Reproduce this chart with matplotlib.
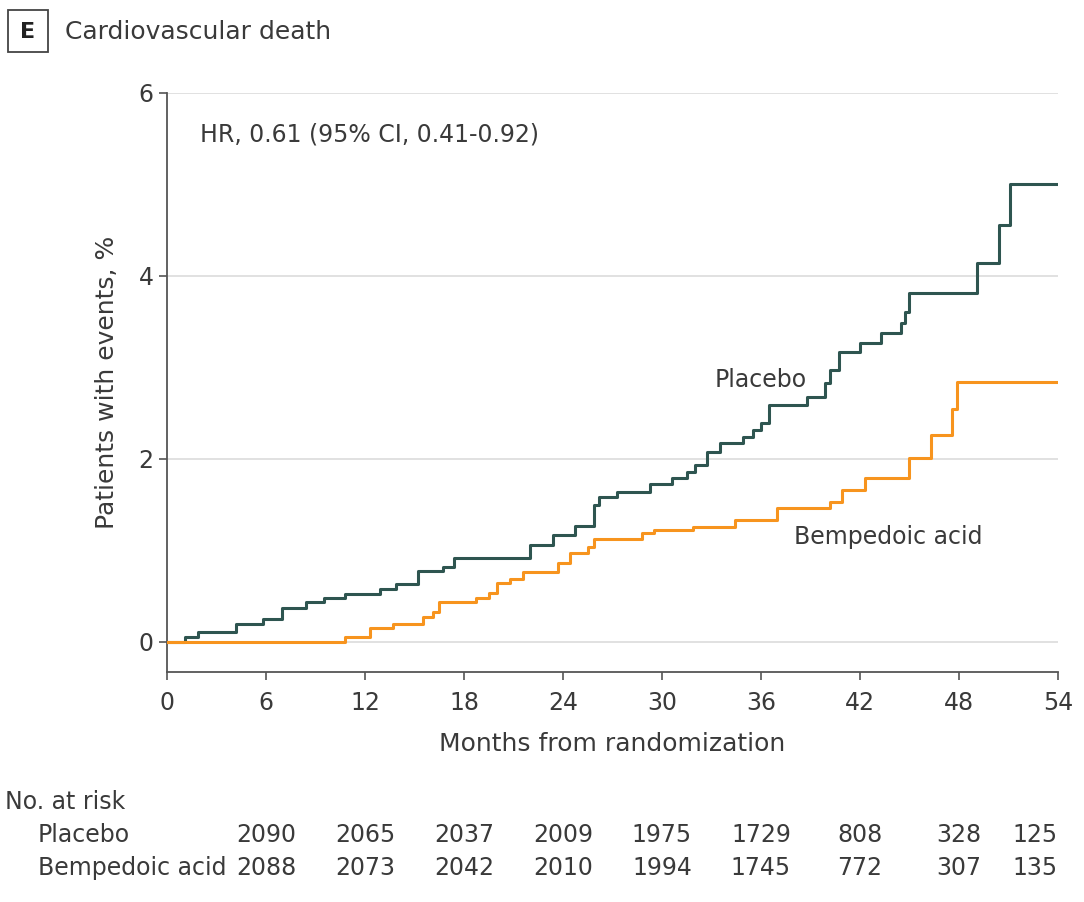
import matplotlib
matplotlib.use("Agg")
import matplotlib.pyplot as plt
from matplotlib.patches import Rectangle

plt.rcParams["font.family"] = ["Liberation Sans Narrow", "DejaVu Sans"]

# ------------------------
# Data
# ------------------------
placebo_months = [0, 1.1, 1.9, 4.2, 5.8, 7.0, 8.4, 9.5, 10.8, 12.9, 13.9, 15.2, 16.7, 17.4,
                  22.0, 23.4, 24.7, 25.9, 26.2, 27.3, 29.3, 30.6, 31.5, 32.0, 32.7, 33.5,
                  34.9, 35.5, 36.0, 36.5, 38.8, 39.9, 40.2, 40.7, 42.0, 43.3, 44.5, 44.7,
                  45.0, 49.1, 50.4, 51.1, 54]
placebo_pct = [0, 0.05, 0.11, 0.20, 0.25, 0.37, 0.43, 0.48, 0.52, 0.58, 0.63, 0.77, 0.82, 0.92,
               1.06, 1.17, 1.27, 1.50, 1.58, 1.64, 1.72, 1.79, 1.86, 1.93, 2.08, 2.17,
               2.24, 2.32, 2.39, 2.59, 2.68, 2.83, 2.97, 3.17, 3.27, 3.38, 3.49, 3.60,
               3.81, 4.14, 4.56, 5.00, 5.00]

bempedoic_months = [0, 10.8, 12.3, 13.7, 15.5, 16.1, 16.5, 18.7, 19.5, 20.0, 20.8, 21.6, 23.7,
                    24.4, 25.5, 25.9, 28.8, 29.5, 31.9, 34.4, 37.0, 40.2, 40.9, 42.3, 45.0,
                    46.3, 47.6, 47.9, 54]
bempedoic_pct = [0, 0.05, 0.15, 0.20, 0.27, 0.33, 0.44, 0.48, 0.53, 0.64, 0.69, 0.76, 0.86,
                 0.97, 1.04, 1.12, 1.19, 1.22, 1.26, 1.33, 1.46, 1.53, 1.66, 1.79, 2.01,
                 2.26, 2.54, 2.84, 2.84]

x_ticks = [0, 6, 12, 18, 24, 30, 36, 42, 48, 54]
y_ticks = [0, 2, 4, 6]

risk_months = [6, 12, 18, 24, 30, 36, 42, 48, 54]
risk_placebo = [2090, 2065, 2037, 2009, 1975, 1729, 808, 328, 125]
risk_bempedoic = [2088, 2073, 2042, 2010, 1994, 1745, 772, 307, 135]

placebo_color = "#2e5550"
bempedoic_color = "#f7941e"
text_color = "#3a3a3a"

# ------------------------
# Plot
# ------------------------
fig = plt.figure(figsize=(10.84, 9.02), dpi=100)
ax = fig.add_axes([0.154, 0.255, 0.822, 0.642])

ax.step(placebo_months, placebo_pct, where="post", color=placebo_color, linewidth=2.2, zorder=3)
ax.step(bempedoic_months, bempedoic_pct, where="post", color=bempedoic_color, linewidth=2.2, zorder=3)

ax.set_xlim(0, 54)
ax.set_ylim(-0.33, 6)
ax.set_xticks(x_ticks)
ax.set_yticks(y_ticks)

for yv in y_ticks:
    ax.axhline(yv, color="#dcdcdc", linewidth=1.2, zorder=1)

for side in ["top", "right"]:
    ax.spines[side].set_visible(False)
for side in ["left", "bottom"]:
    ax.spines[side].set_color("#555555")
    ax.spines[side].set_linewidth(1.3)

ax.tick_params(axis="both", colors="#555555", labelcolor=text_color, labelsize=17,
               length=6, width=1.2)
ax.tick_params(axis="x", pad=8)

ax.set_xlabel("Months from randomization", fontsize=18, color=text_color, labelpad=12)
ax.set_ylabel("Patients with events, %", fontsize=18, color=text_color, labelpad=14)

ax.text(2.0, 5.55, "HR, 0.61 (95% CI, 0.41-0.92)", fontsize=17, color=text_color, va="center")
ax.text(33.2, 2.86, "Placebo", fontsize=17, color=text_color, va="center")
ax.text(38.0, 1.15, "Bempedoic acid", fontsize=17, color=text_color, va="center")

# Panel label and title
fig.patches.append(Rectangle((8 / 1084, 1 - 52 / 902), 40 / 1084, 42 / 902,
                             transform=fig.transFigure, fill=False,
                             edgecolor="#444444", linewidth=1.3))
fig.text(28 / 1084, 1 - 32 / 902, "E", fontsize=16, fontweight="bold",
         color="#222222", ha="center", va="center")
fig.text(65 / 1084, 1 - 32 / 902, "Cardiovascular death", fontsize=18,
         color=text_color, va="center")

# ------------------------
# No. at risk table
# ------------------------
trans = ax.get_xaxis_transform()
fig.text(5 / 1084, 1 - 802 / 902, "No. at risk", fontsize=17, color=text_color, va="center")
fig.text(38 / 1084, 1 - 835 / 902, "Placebo", fontsize=17, color=text_color, va="center")
fig.text(38 / 1084, 1 - 868 / 902, "Bempedoic acid", fontsize=17, color=text_color, va="center")

y_pl = (1 - 835 / 902 - 0.255) / 0.642
y_bp = (1 - 868 / 902 - 0.255) / 0.642
for i, m in enumerate(risk_months):
    ha = "right" if m == risk_months[-1] else "center"
    ax.text(m, y_pl, str(risk_placebo[i]), transform=trans, fontsize=17,
            color=text_color, ha=ha, va="center", clip_on=False)
    ax.text(m, y_bp, str(risk_bempedoic[i]), transform=trans, fontsize=17,
            color=text_color, ha=ha, va="center", clip_on=False)

plt.savefig("out.png", dpi=100)
